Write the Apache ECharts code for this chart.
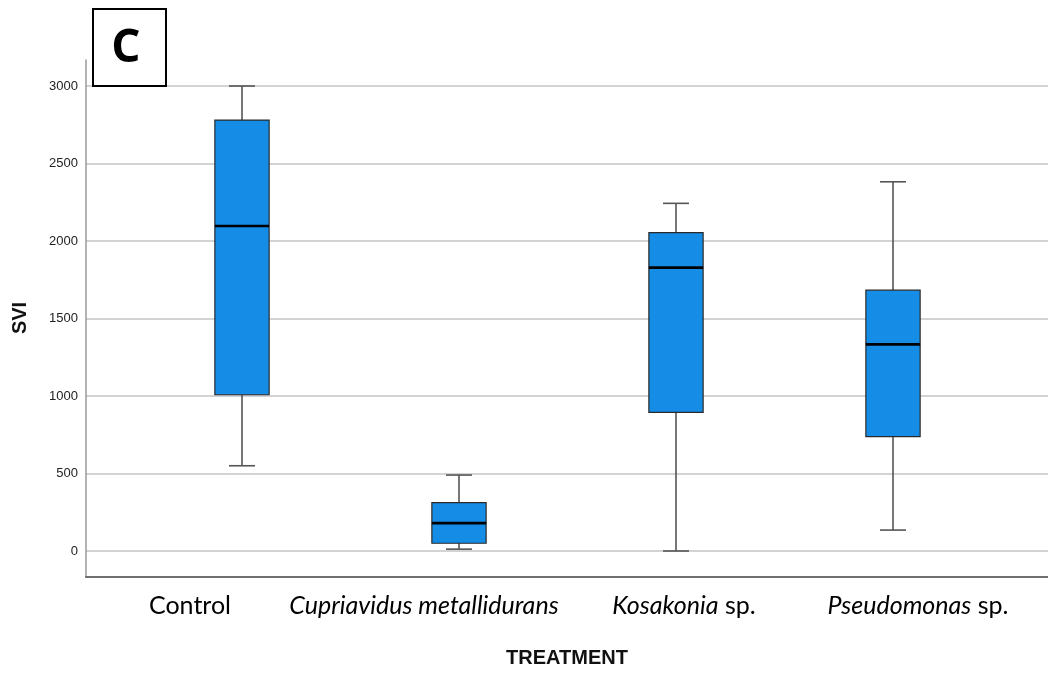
<!DOCTYPE html>
<html>
<head>
<meta charset="utf-8">
<script src="https://cdn.jsdelivr.net/npm/echarts@6/dist/echarts.min.js"></script>
<style>html,body{margin:0;padding:0;background:#fff;}#c{width:1048px;height:675px;}</style>
</head>
<body>
<div id="c"></div>
<script>
// Data
const categories = ['Control', 'Cupriavidus metallidurans', 'Kosakonia sp.', 'Pseudomonas sp.'];
const categoryLabels = ['Control', '{i|Cupriavidus metallidurans}', '{i|Kosakonia} sp.', '{i|Pseudomonas} sp.'];
const whiskerMin = [550, 12, 0, 135];
const q1 = [1008, 50, 895, 738];
const median = [2097, 180, 1828, 1333];
const q3 = [2780, 312, 2054, 1683];
const whiskerMax = [3000, 490, 2243, 2382];
const yTicks = [0, 500, 1000, 1500, 2000, 2500, 3000];

// label placement (layout only)
const labelCenters = [190, 424, 684, 918];

const boxData = categories.map((c, i) => [i, whiskerMin[i], q1[i], median[i], q3[i], whiskerMax[i]]);

const chart = echarts.init(document.getElementById('c'), null, {renderer: 'canvas'});

function renderBox(params, api) {
  const idx = api.value(0);
  const band = api.size([1, 0])[0];
  const half = band * 0.125;
  const capHalf = half * 0.48;
  const pMin = api.coord([idx, api.value(1)]);
  const pQ1 = api.coord([idx, api.value(2)]);
  const pMed = api.coord([idx, api.value(3)]);
  const pQ3 = api.coord([idx, api.value(4)]);
  const pMax = api.coord([idx, api.value(5)]);
  const x = pMed[0];
  const wStyle = {stroke: '#555', lineWidth: 1.6};
  return {
    type: 'group',
    children: [
      {type: 'line', shape: {x1: x, y1: pMax[1], x2: x, y2: pQ3[1]}, style: wStyle},
      {type: 'line', shape: {x1: x, y1: pQ1[1], x2: x, y2: pMin[1]}, style: wStyle},
      {type: 'line', shape: {x1: x - capHalf, y1: pMax[1], x2: x + capHalf, y2: pMax[1]}, style: wStyle},
      {type: 'line', shape: {x1: x - capHalf, y1: pMin[1], x2: x + capHalf, y2: pMin[1]}, style: wStyle},
      {type: 'rect', shape: {x: x - half, y: pQ3[1], width: half * 2, height: pQ1[1] - pQ3[1]},
        style: {fill: '#158de6', stroke: '#2a2a2a', lineWidth: 1.2}},
      {type: 'line', shape: {x1: x - half, y1: pMed[1], x2: x + half, y2: pMed[1]},
        style: {stroke: '#000', lineWidth: 2.6}}
    ]
  };
}

const labelGraphics = categoryLabels.map((t, i) => ({
  type: 'text', x: labelCenters[i], y: 606, z: 50,
  style: {
    text: t, fontFamily: 'Lato', fontSize: 25, fill: '#000', align: 'center', verticalAlign: 'middle',
    rich: {i: {fontStyle: 'italic', fontFamily: 'Lato', fontSize: 25, fill: '#000'}}
  }
}));

const option = {
  backgroundColor: '#fff',
  animation: false,
  grid: [
    {left: 86, right: 0, top: 60, height: 517},
    {left: 86, right: 0, top: 86, height: 465},
    {left: 133.5, width: 868, top: 86, height: 465}
  ],
  xAxis: [
    {gridIndex: 0, type: 'value', min: 0, max: 1, axisLabel: {show: false}, axisTick: {show: false},
      splitLine: {show: false}, axisLine: {show: true, lineStyle: {color: '#707070', width: 2}}},
    {gridIndex: 1, type: 'value', min: 0, max: 1, show: false},
    {gridIndex: 2, type: 'category', data: categories, boundaryGap: true, show: false}
  ],
  yAxis: [
    {gridIndex: 0, type: 'value', min: 0, max: 1, axisLabel: {show: false}, axisTick: {show: false},
      splitLine: {show: false}, axisLine: {show: true, lineStyle: {color: '#9a9a9a', width: 1.5}}},
    {gridIndex: 1, type: 'value', min: yTicks[0], max: yTicks[yTicks.length - 1], interval: 500,
      axisLine: {show: false}, axisTick: {show: false},
      axisLabel: {color: '#222', fontFamily: 'Liberation Sans', fontSize: 13, margin: 8,
        formatter: v => String(v)},
      splitLine: {show: true, lineStyle: {color: '#d3d3d3', width: 2}}},
    {gridIndex: 2, type: 'value', min: yTicks[0], max: yTicks[yTicks.length - 1], show: false}
  ],
  series: [
    {type: 'custom', xAxisIndex: 2, yAxisIndex: 2, data: boxData, renderItem: renderBox,
      encode: {x: 0, y: [1, 2, 3, 4, 5]}, z: 5}
  ],
  graphic: [
    {type: 'rect', left: 92, top: 8, shape: {width: 73, height: 77}, z: 100,
      style: {fill: '#fff', stroke: '#000', lineWidth: 2}},
    {type: 'text', x: 126, y: 49, z: 101,
      style: {text: 'C', fontFamily: 'Open Sans', fontWeight: 'bold', fontSize: 46, fill: '#000',
        align: 'center', verticalAlign: 'middle'}},
    {type: 'text', x: 567, y: 658, z: 50,
      style: {text: 'TREATMENT', fontFamily: 'Liberation Sans', fontWeight: 'bold', fontSize: 20, fill: '#111',
        align: 'center', verticalAlign: 'middle'}},
    {type: 'text', x: 20, y: 318, rotation: Math.PI / 2, z: 50,
      style: {text: 'SVI', fontFamily: 'Liberation Sans', fontWeight: 'bold', fontSize: 20, fill: '#111',
        align: 'center', verticalAlign: 'middle'}}
  ].concat(labelGraphics)
};
chart.setOption(option);
</script>
</body>
</html>
